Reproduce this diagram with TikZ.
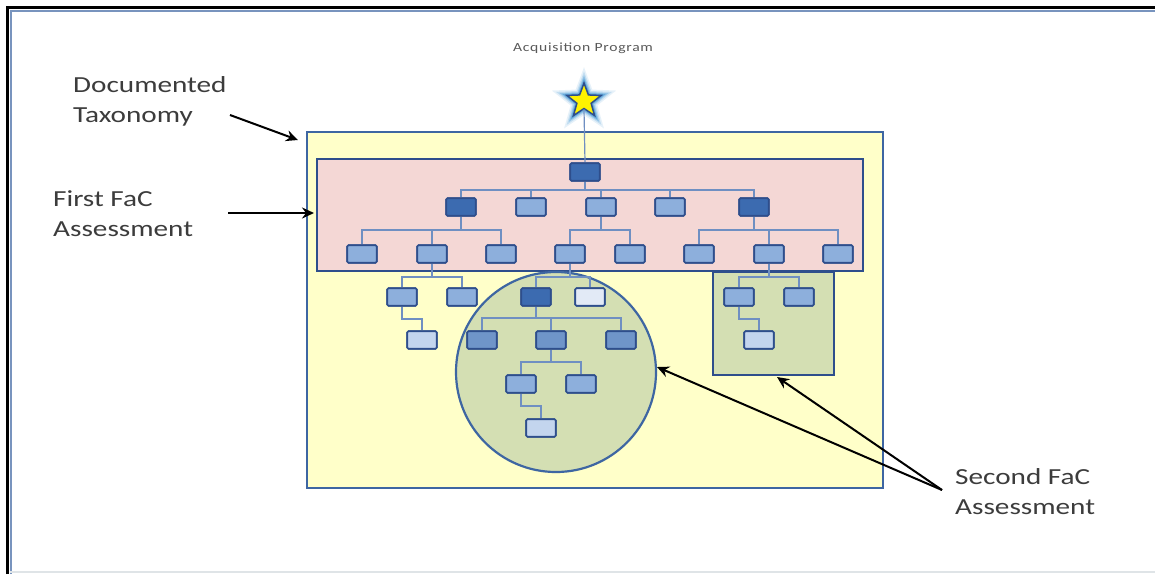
\documentclass[tikz,border=0pt]{standalone}
\usepackage{fontspec}
\usetikzlibrary{shapes.geometric,arrows.meta}
\newfontfamily\labfont[FakeStretch=1.27]{Carlito}
\newfontfamily\ttlfont[FakeStretch=1.25,LetterSpace=6]{Carlito}
\definecolor{bord}{HTML}{2E4E8C}
\definecolor{cdark}{HTML}{3C6BB0}
\definecolor{cmdark}{HTML}{6F95C9}
\definecolor{cmid}{HTML}{8DAFDC}
\definecolor{clight}{HTML}{C3D5EE}
\definecolor{cvlight}{HTML}{E2EAF6}
\definecolor{conncol}{HTML}{6F8FC2}
\definecolor{yel}{HTML}{FFFFC9}
\definecolor{pinkf}{HTML}{F4D7D5}
\definecolor{greenf}{HTML}{D4DFB3}
\definecolor{frameblue}{HTML}{3E66A2}
\definecolor{txt}{HTML}{3C3C3C}
\tikzset{
  tbox/.style={draw=bord, line width=1.6pt, rounded corners=1.2pt, minimum width=29.5pt, minimum height=17.5pt, inner sep=0pt},
  bdark/.style={tbox, fill=cdark},
  bmdark/.style={tbox, fill=cmdark},
  bmid/.style={tbox, fill=cmid},
  blight/.style={tbox, fill=clight},
  bvlight/.style={tbox, fill=cvlight},
  conn/.style={draw=conncol, line width=1.1pt},
  lab/.style={font=\labfont\fontsize{23}{30}\selectfont, text=txt, align=left, inner sep=0pt, anchor=base west},
  pointer/.style={draw=black, line width=2pt, -{Stealth[length=12pt,width=11pt,inset=4pt]}},
}
\begin{document}
\begin{tikzpicture}[x=1pt,y=-1pt]
\useasboundingbox (0,0) rectangle (1155,574);
\fill[white] (0,0) rectangle (1155,574);
% frame
\draw[frameblue!70, line width=2pt] (10.5,574) -- (10.5,10.5) -- (1155,10.5);
\draw[black, line width=3pt] (7,574) -- (7,7) -- (1155,7);
\draw[cyan!15!gray!25, line width=1.2pt] (10,572) -- (1155,572);

% containers
\node[draw=frameblue, fill=yel, line width=2pt, minimum width=576pt, minimum height=356pt, inner sep=0pt] (tax) at (595,310) {};
\node[draw=bord, fill=pinkf, line width=2.5pt, minimum width=546pt, minimum height=112pt, inner sep=0pt] (first) at (590,215) {};
\node[draw=frameblue, fill=greenf, line width=2.2pt, circle, minimum size=200pt, inner sep=0pt] (circ) at (556,372) {};
\node[draw=bord, fill=greenf, line width=2.2pt, minimum width=121pt, minimum height=103pt, inner sep=0pt] (sq) at (773.5,323.5) {};

% title and star
\node[font=\ttlfont\fontsize{12.5}{14}\selectfont, text=txt!85] (title) at (583,48) {Acquisition Program};
\foreach \w/\o in {11/0.10,8/0.16,5.5/0.25,3.5/0.35} {
  \node[star, star points=5, star point ratio=2.4, minimum size=36pt, inner sep=0pt, draw=cyan!60!blue, line width=\w pt, opacity=\o] at (584,101) {};
}
\node[star, star points=5, star point ratio=2.4, minimum size=36pt, inner sep=0pt, draw=bord, fill=yellow, line width=1.5pt] (star) at (584,101) {};

% tree nodes
\node[bdark] (r) at (585,172) {};
\node[bdark] (a1) at (461,207) {};
\node[bmid] (a2) at (531,207) {};
\node[bmid] (a3) at (601,207) {};
\node[bmid] (a4) at (670,207) {};
\node[bdark] (a5) at (754,207) {};
\node[bmid] (b1) at (362,254) {};
\node[bmid] (b2) at (432,254) {};
\node[bmid] (b3) at (501,254) {};
\node[bmid] (b4) at (570,254) {};
\node[bmid] (b5) at (630,254) {};
\node[bmid] (b6) at (699,254) {};
\node[bmid] (b7) at (769,254) {};
\node[bmid] (b8) at (838,254) {};
\node[bmid] (c1) at (402,297) {};
\node[bmid] (c2) at (462,297) {};
\node[bdark] (c3) at (536,297) {};
\node[bvlight] (c4) at (590,297) {};
\node[bmid] (c5) at (739,297) {};
\node[bmid] (c6) at (799,297) {};
\node[blight] (d1) at (422,340) {};
\node[bmdark] (d2) at (482,340) {};
\node[bmdark] (d3) at (551,340) {};
\node[bmdark] (d4) at (621,340) {};
\node[blight] (d5) at (759,340) {};
\node[bmid] (e1) at (521,384) {};
\node[bmid] (e2) at (581,384) {};
\node[blight] (f1) at (541,428) {};

% connectors
\draw[conncol, line width=1.2pt] (star.south) -- (r.north);
\foreach \c in {a1,a2,a3,a4,a5} \draw[conn] (r.south) -- (r.south |- 0,190) -| (\c.north);
\foreach \c in {b1,b2,b3} \draw[conn] (a1.south) -- (a1.south |- 0,230) -| (\c.north);
\foreach \c in {b4,b5} \draw[conn] (a3.south) -- (a3.south |- 0,230) -| (\c.north);
\foreach \c in {b6,b7,b8} \draw[conn] (a5.south) -- (a5.south |- 0,230) -| (\c.north);
\foreach \c in {c1,c2} \draw[conn] (b2.south) -- (b2.south |- 0,277) -| (\c.north);
\foreach \c in {c3,c4} \draw[conn] (b4.south) -- (b4.south |- 0,277) -| (\c.north);
\foreach \c in {c5,c6} \draw[conn] (b7.south) -- (b7.south |- 0,277) -| (\c.north);
\draw[conn] (c1.south) -- (c1.south |- 0,319) -| (d1.north);
\foreach \c in {d2,d3,d4} \draw[conn] (c3.south) -- (c3.south |- 0,318) -| (\c.north);
\draw[conn] (c5.south) -- (c5.south |- 0,319) -| (d5.north);
\foreach \c in {e1,e2} \draw[conn] (d3.south) -- (d3.south |- 0,362) -| (\c.north);
\draw[conn] (e1.south) -- (e1.south |- 0,406) -| (f1.north);
% redraw boxes on top of connectors
\foreach \n/\s in {r/bdark,a1/bdark,a2/bmid,a3/bmid,a4/bmid,a5/bdark,b1/bmid,b2/bmid,b3/bmid,b4/bmid,b5/bmid,b6/bmid,b7/bmid,b8/bmid,c1/bmid,c2/bmid,c3/bdark,c4/bvlight,c5/bmid,c6/bmid,d1/blight,d2/bmdark,d3/bmdark,d4/bmdark,d5/blight,e1/bmid,e2/bmid,f1/blight}
  \node[\s] at (\n) {};

% labels (base anchor = last line)
\node[lab] (ldoc) at (73,122) {Documented\\Taxonomy};
\node[lab] (lfirst) at (53,236) {First FaC\\Assessment};
\node[lab] (lsecond) at (955,514) {Second FaC\\Assessment};

% arrows
\coordinate (tA) at (230,115);
\coordinate (tB) at (298,140);
\coordinate (fA) at (228,213);
\coordinate (fB) at (314,213);
\coordinate (sA) at (942,490);
\coordinate (sB) at (657,367);
\coordinate (sC) at (777,377);
\draw[pointer] (tA) -- (tB);
\draw[pointer] (fA) -- (fB);
\draw[pointer] (sA) -- (sB);
\draw[pointer] (sA) -- (sC);
\end{tikzpicture}
\end{document}
